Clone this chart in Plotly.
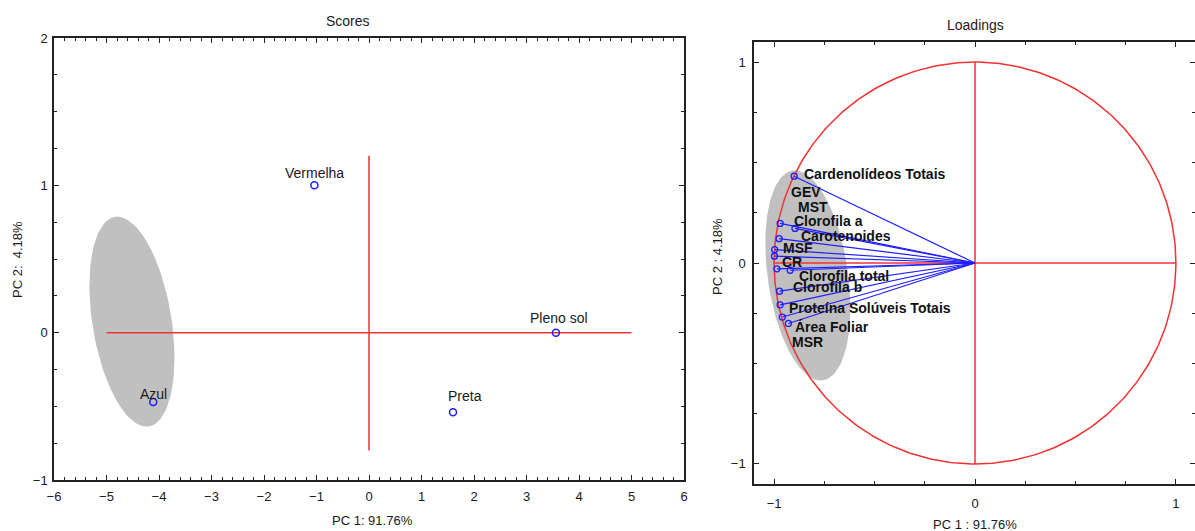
import numpy as np
import plotly.graph_objects as go

# ---- Scores (PC1 x PC2) ----
score_names = ["Vermelha", "Azul", "Pleno sol", "Preta"]
score_pc1 = [-1.04, -4.11, 3.56, 1.60]
score_pc2 = [1.00, -0.47, 0.00, -0.54]

# ---- Loadings (PC1 x PC2) ----
load_names = [
    "Cardenolídeos Totais", "GEV", "MST", "Clorofila a", "Carotenoides", "MSF",
    "CR", "Clorofila total", "Clorofila b", "Proteína Solúveis Totais",
    "Área Foliar", "MSR",
]
load_pc1 = [-0.900, -0.970, -0.896, -0.975, -0.997, -0.998,
            -0.986, -0.920, -0.973, -0.970, -0.959, -0.929]
load_pc2 = [0.432, 0.197, 0.172, 0.121, 0.067, 0.034,
            -0.029, -0.036, -0.140, -0.208, -0.269, -0.301]

# label placement (pixel shifts from each marker)
score_label_shift = [(0, 12), (0, 8), (3, 15), (12, 16)]
load_label_shift = [(8, 2), (9, 31), (1, 21), (13, 18), (24, 14), (7, 8),
                    (3, 7), (7, -6), (11, 4), (7, -3), (11, -10), (2, -19)]

W, H = 1195, 531
FONT = "Liberation Sans, Arial, sans-serif"
RED = "rgb(240,50,50)"
BLUE = "rgb(30,30,255)"
GRAY = "#c0c0c0"


def ellipse_path(cx, cy, u, v, n=120):
    t = np.linspace(0, 2 * np.pi, n)
    xs = cx + np.cos(t) * u[0] + np.sin(t) * v[0]
    ys = cy + np.cos(t) * u[1] + np.sin(t) * v[1]
    return xs, ys


fig = go.Figure()

# gray highlight ellipses
ex, ey = ellipse_path(-4.515, 0.075, (-0.321, 0.711), (0.744, 0.042))
fig.add_trace(go.Scatter(x=ex, y=ey, mode="lines", fill="toself", fillcolor=GRAY,
                         line=dict(width=0, color=GRAY), xaxis="x", yaxis="y",
                         hoverinfo="skip"))
ex2, ey2 = ellipse_path(-0.832, -0.062, (-0.075, 0.522), (0.198, 0.028))
fig.add_trace(go.Scatter(x=ex2, y=ey2, mode="lines", fill="toself", fillcolor=GRAY,
                         line=dict(width=0, color=GRAY), xaxis="x2", yaxis="y2",
                         hoverinfo="skip"))

# reference cross on the score plot
fig.add_trace(go.Scatter(x=[-5, 5, None, 0, 0], y=[0, 0, None, -0.8, 1.2], mode="lines",
                         line=dict(color=RED, width=1.5), xaxis="x", yaxis="y",
                         hoverinfo="skip"))

# unit circle and cross on the loading plot
t = np.linspace(0, 2 * np.pi, 361)
fig.add_trace(go.Scatter(x=np.cos(t), y=np.sin(t), mode="lines",
                         line=dict(color=RED, width=1.5), xaxis="x2", yaxis="y2",
                         hoverinfo="skip"))
fig.add_trace(go.Scatter(x=[-1, 1, None, 0, 0], y=[0, 0, None, -1, 1], mode="lines",
                         line=dict(color=RED, width=1.5), xaxis="x2", yaxis="y2",
                         hoverinfo="skip"))

# loading vectors from origin
vx, vy = [], []
for a, b in zip(load_pc1, load_pc2):
    vx += [0, a, None]
    vy += [0, b, None]
fig.add_trace(go.Scatter(x=vx, y=vy, mode="lines", line=dict(color=BLUE, width=1.2),
                         xaxis="x2", yaxis="y2", hoverinfo="skip"))
fig.add_trace(go.Scatter(x=load_pc1, y=load_pc2, mode="markers",
                         marker=dict(symbol="circle-open", size=6, color=BLUE,
                                     line=dict(width=1.3, color=BLUE)),
                         xaxis="x2", yaxis="y2", text=load_names))

# score points
fig.add_trace(go.Scatter(x=score_pc1, y=score_pc2, mode="markers",
                         marker=dict(symbol="circle-open", size=7, color=BLUE,
                                     line=dict(width=1.5, color=BLUE)),
                         xaxis="x", yaxis="y", text=score_names))

annotations = []
for name, a, b, (dx, dy) in zip(score_names, score_pc1, score_pc2, score_label_shift):
    annotations.append(dict(x=a, y=b, xref="x", yref="y", text=name, showarrow=False,
                            xanchor="center", yanchor="middle", xshift=dx, yshift=dy,
                            font=dict(family=FONT, size=14, color="#1a1a1a")))
for name, a, b, (dx, dy) in zip(load_names, load_pc1, load_pc2, load_label_shift):
    annotations.append(dict(x=a, y=b, xref="x2", yref="y2", text="<b>" + name + "</b>",
                            showarrow=False, xanchor="left", yanchor="middle",
                            xshift=dx, yshift=dy,
                            font=dict(family=FONT, size=14, color="#111")))


def paper_text(text, px, py, size=14, angle=0):
    return dict(x=px / W, y=1 - py / H, xref="paper", yref="paper", text=text,
                showarrow=False, xanchor="center", yanchor="middle", textangle=angle,
                font=dict(family=FONT, size=size, color="#1a1a1a"))


annotations += [
    paper_text("Scores", 348, 21),
    paper_text("Loadings", 975, 25),
    paper_text("PC 1: 91.76%", 372, 520, 13),
    paper_text("PC 1 : 91.76%", 975, 524, 13),
    paper_text("PC 2:  4.18%", 17, 260, 13, -90),
    paper_text("PC 2 : 4.18%", 718, 257, 13, -90),
]

axis_common = dict(showgrid=False, zeroline=False, showline=True, linecolor="#222",
                   linewidth=1.5, mirror="allticks", ticks="inside", ticklen=5,
                   tickwidth=1.2, tickcolor="#222", automargin=False,
                   tickfont=dict(family=FONT, size=13, color="#1a1a1a"))

fig.update_layout(
    width=W, height=H, margin=dict(l=0, r=0, t=0, b=0, autoexpand=False),
    paper_bgcolor="white", plot_bgcolor="white", showlegend=False,
    annotations=annotations,
    xaxis=dict(domain=[54 / W, 684 / W], range=[-6, 6], dtick=1, anchor="y",
               minor=dict(ticks="inside", dtick=0.2, ticklen=3, tickcolor="#222"),
               ticklabelstandoff=4, **axis_common),
    yaxis=dict(domain=[(H - 480) / H, (H - 38) / H], range=[-1, 2], dtick=1, anchor="x",
               minor=dict(ticks="inside", dtick=0.25, ticklen=3, tickcolor="#222"),
               ticklabelstandoff=2, **axis_common),
    xaxis2=dict(domain=[754 / W, 1.0], range=[-1.1, 1.095], tickvals=[-1, 0, 1],
                anchor="y2", ticklabelstandoff=7,
                minor=dict(ticks="inside", tickvals=[-0.75, -0.5, -0.25, 0.25, 0.5, 0.75],
                           ticklen=3, tickcolor="#222"),
                **axis_common),
    yaxis2=dict(domain=[(H - 484) / H, (H - 42) / H], range=[-1.1, 1.1],
                tickvals=[-1, 0, 1], anchor="x2", ticklabelstandoff=4,
                minor=dict(ticks="inside", tickvals=[-0.75, -0.5, -0.25, 0.25, 0.5, 0.75],
                           ticklen=3, tickcolor="#222"),
                **axis_common),
)

fig.write_html("out.html")
